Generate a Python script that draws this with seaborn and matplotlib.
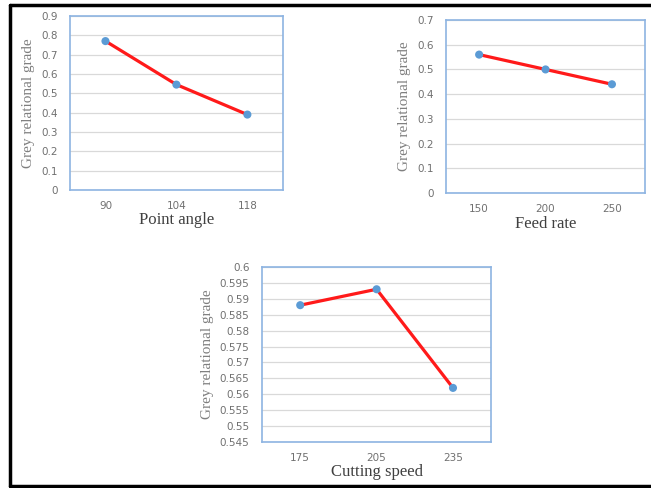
import numpy as np
import matplotlib
matplotlib.use("Agg")
import matplotlib.pyplot as plt
import seaborn as sns

# ── data ──────────────────────────────────────────────
point_angle = ["90", "104", "118"]
grg_point_angle = [0.77, 0.545, 0.39]

feed_rate = ["150", "200", "250"]
grg_feed_rate = [0.56, 0.50, 0.44]

cutting_speed = ["175", "205", "235"]
grg_cutting_speed = [0.588, 0.593, 0.562]

# ── style ─────────────────────────────────────────────
sns.set_theme(style="white")
plt.rcParams["font.family"] = ["Liberation Serif", "DejaVu Serif"]

LINE_RED = "#FF1A1A"
MARK_BLUE = "#5B9BD5"
SPINE_BLUE = "#8DB4E2"
GRID = "#D9D9D9"
TICK_GREY = "#707070"

fig = plt.figure(figsize=(6.51, 4.88), dpi=100)

panels = [
    ([0.1075, 0.6107, 0.327, 0.3566], point_angle, grg_point_angle,
     "Point angle", 0, 0.9, 0.1),
    ([0.685, 0.6045, 0.306, 0.3545], feed_rate, grg_feed_rate,
     "Feed rate", 0, 0.7, 0.1),
    ([0.4025, 0.0943, 0.352, 0.3586], cutting_speed, grg_cutting_speed,
     "Cutting speed", 0.545, 0.6, 0.005),
]

for rect, cats, vals, xlabel, ymin, ymax, step in panels:
    ax = fig.add_axes(rect)
    pos = np.arange(len(cats))
    sns.lineplot(x=pos, y=vals, ax=ax, color=LINE_RED, linewidth=2.3, zorder=2)
    sns.scatterplot(x=pos, y=vals, ax=ax, color=MARK_BLUE, s=34,
                    edgecolor="none", zorder=3)
    ax.set_xlim(-0.5, len(cats) - 0.5)
    ax.set_ylim(ymin, ymax)
    ticks = np.round(np.arange(ymin, ymax + step / 2, step), 4)
    ax.set_yticks(ticks)
    ax.set_yticklabels([f"{t:g}" for t in ticks])
    ax.set_xticks(pos)
    ax.set_xticklabels(cats)
    ax.grid(axis="y", color=GRID, linewidth=0.9)
    ax.set_axisbelow(True)
    for sp in ax.spines.values():
        sp.set_color(SPINE_BLUE)
        sp.set_linewidth(1.2)
    ax.tick_params(axis="both", length=0, labelsize=7.5, labelcolor=TICK_GREY,
                   pad=9)
    ax.tick_params(axis="x", pad=8)
    for lab in ax.get_xticklabels() + ax.get_yticklabels():
        lab.set_family(["DejaVu Sans"])
    ax.set_xlabel(xlabel, fontsize=12, color="#404040", labelpad=1)
    ax.set_ylabel("Grey relational grade", fontsize=11, color="#7F7F7F",
                  labelpad=4)

# outer black frame (left, top, bottom)
frame_kw = dict(color="black", linewidth=2.5, transform=fig.transFigure)
fig.add_artist(plt.Line2D([0.015, 0.015], [0.004, 0.99], **frame_kw))
fig.add_artist(plt.Line2D([0.015, 1.0], [0.99, 0.99], **frame_kw))
fig.add_artist(plt.Line2D([0.015, 1.0], [0.004, 0.004], **frame_kw))

fig.savefig("out.png", dpi=100)
